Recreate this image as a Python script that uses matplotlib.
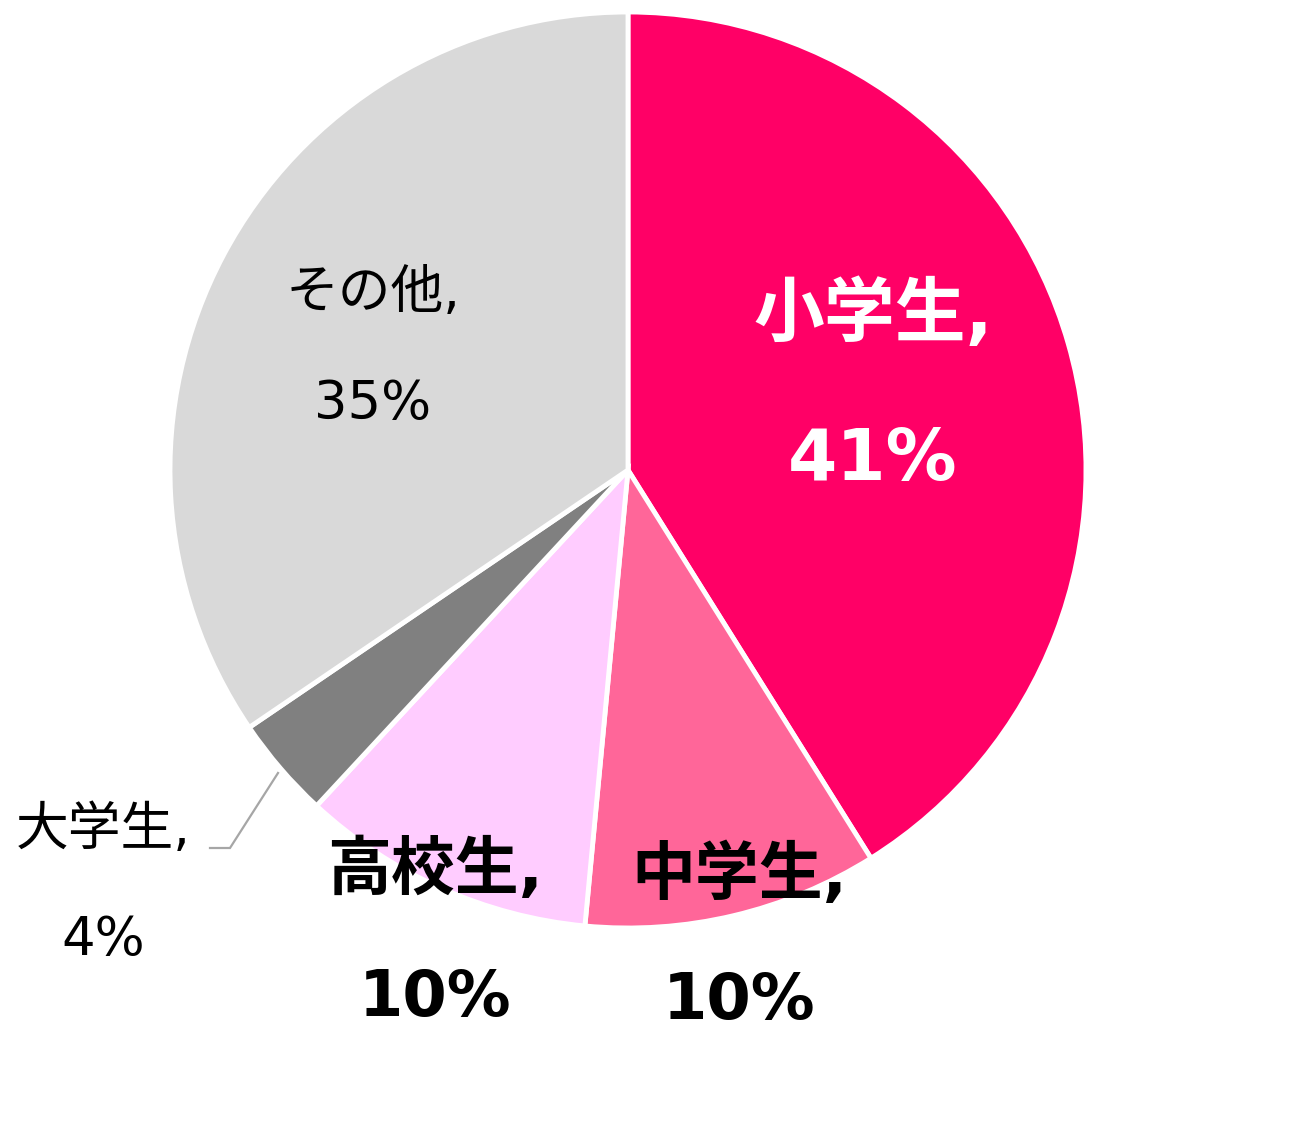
import matplotlib
matplotlib.use("Agg")
import matplotlib.pyplot as plt

# ---- data ----
categories = ["小学生", "中学生", "高校生", "大学生", "その他"]
values = [41.1, 10.4, 10.4, 3.6, 34.5]
pct_labels = ["41%", "10%", "10%", "4%", "35%"]
colors = ["#FF0066", "#FF6699", "#FFCCFF", "#808080", "#D9D9D9"]

# ---- layout (pixel space, y from top) ----
W, H = 1299, 1124
center_px = (628, 470)
radius_px = 458
label_pos = [(873, 388), (739, 938), (435, 934), (103, 885), (373, 348)]
label_size = [51, 46, 46, 38, 38]
label_weight = ["bold", "bold", "bold", "normal", "normal"]
label_color = ["white", "black", "black", "black", "black"]
label_gap = [145, 125, 128, 110, 111]

plt.rcParams['font.family'] = ['DejaVu Sans', 'Noto Sans CJK JP']

fig = plt.figure(figsize=(W / 100, H / 100), dpi=100)
ax = fig.add_axes([0, 0, 1, 1])

def fy(y):
    return H - y

ax.pie(values, colors=colors, startangle=90, counterclock=False,
       center=(center_px[0], fy(center_px[1])), radius=radius_px,
       wedgeprops=dict(edgecolor='white', linewidth=3.5), frame=True)
ax.set_xlim(0, W)
ax.set_ylim(0, H)
ax.set_aspect('equal')
ax.axis('off')

for i, cat in enumerate(categories):
    x, y = label_pos[i]
    g = label_gap[i]
    ax.text(x, fy(y - g / 2), cat + ",", ha='center', va='center',
            fontsize=label_size[i], fontweight=label_weight[i], color=label_color[i])
    ax.text(x, fy(y + g / 2), pct_labels[i], ha='center', va='center',
            fontsize=label_size[i], fontweight=label_weight[i], color=label_color[i])

# leader line for 大学生
ax.plot([278, 230, 210], [fy(773), fy(848), fy(848)], color='#A6A6A6', lw=1.6,
        solid_joinstyle='miter')

fig.savefig("out.png", dpi=100)
